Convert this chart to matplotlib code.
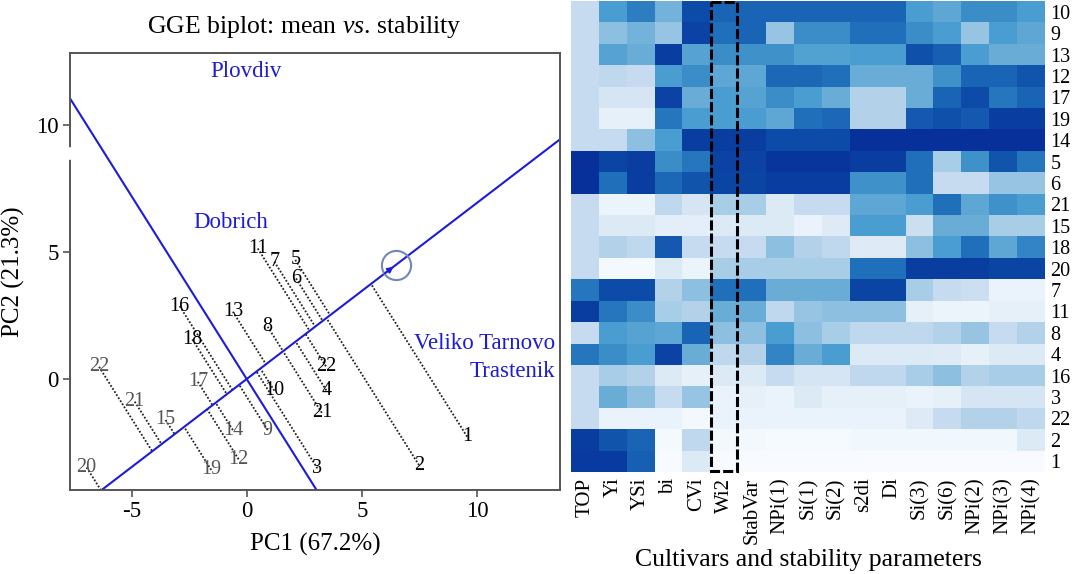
import numpy as np
import matplotlib
matplotlib.use('Agg')
import matplotlib.pyplot as plt
from matplotlib.colors import LinearSegmentedColormap
from matplotlib.patches import Rectangle

# ---------------- GGE biplot data ----------------
geno_labels = ['11', '7', '5', '6', '16', '13', '8', '18', '22', '17', '10', '21',
               '15', '14', '9', '12', '19', '20', '22', '4', '21', '3', '2', '1']
pc1 = [0.48, 1.20, 2.11, 2.14, -2.91, -0.60, 0.91, -2.36, -6.41, -2.12, 1.20, -4.86,
       -3.52, -0.60, 0.91, -0.35, -1.54, -6.95, 3.44, 3.46, 3.26, 3.07, 7.48, 9.57]
pc2 = [5.14, 4.62, 4.69, 3.96, 2.87, 2.65, 2.06, 1.56, 0.48, -0.11, -0.46, -0.89,
       -1.61, -2.01, -2.01, -3.16, -3.58, -3.48, 0.50, -0.45, -1.33, -3.52, -3.39, -2.27]
faded = [8, 9, 11, 12, 13, 14, 15, 16, 17]   # labels printed in grey

env_names = ['Plovdiv', 'Dobrich', 'Veliko Tarnovo', 'Trastenik']
env_x = [-0.03, -0.68, 13.39, 13.39]
env_y = [12.1, 6.15, 1.41, 0.29]
avg_env = [6.47, 4.49]   # average environment coordinate

# ---------------- heatmap data ----------------
cultivars = ['10', '9', '13', '12', '17', '19', '14', '5', '6', '21', '15',
             '18', '20', '7', '11', '8', '4', '16', '3', '22', '2', '1']
params = ['TOP', 'Yi', 'YSi', 'bi', 'CVi', 'Wi2', 'StabVar', 'NPi(1)', 'Si(1)',
          'Si(2)', 's2di', 'Di', 'Si(3)', 'Si(6)', 'NPi(2)', 'NPi(3)', 'NPi(4)']

top = [3, 3, 3, 3, 3, 3, 3, 10, 10, 3, 3, 3, 3, 7.3, 9.5, 3, 7.3, 3, 3, 3, 9.5, 9.6]
yi = [6, 4.5, 5.7, 3.2, 2.3, 1.3, 3, 9.2, 7.5, 0.8, 2, 3.6, 0.2, 9, 7.3, 6, 6.5, 4, 5.2, 1, 8.6, 9.6]
ysi = [7, 5, 5.2, 3, 2.3, 1.3, 4.5, 9.5, 9.5, 0.8, 2, 3.2, 0.2, 9, 6.5, 5.7, 6, 3.6, 4.5, 1, 8, 8.2]
bi = [5, 4.3, 9.5, 6, 9.3, 7.3, 6, 6.5, 7.8, 3.2, 1.5, 8.4, 2, 3.6, 4, 5.5, 9.3, 2, 3, 1, 0.2, 0]
cvi = [9, 9.3, 5.7, 6.5, 5.2, 6, 9.5, 7.3, 8.6, 2.3, 1.5, 3, 0.8, 4.5, 3.6, 8, 5.2, 1.3, 4.3, 0.3, 3.2, 2]
wi2 = [8, 7.5, 6.5, 5.5, 6, 6, 9.5, 9.3, 9.2, 4, 2, 3, 4, 7.5, 5.2, 4.5, 3.2, 2, 1, 1, 0.3, 0]
stabvar = [8, 8, 6.4, 5.5, 5.7, 6, 9.5, 9.3, 9.2, 4, 2, 3, 4, 7.5, 5.2, 4.5, 3.6, 2, 1.3, 1, 0.3, 0]
npi1 = [8, 4.3, 6.4, 7.8, 6.5, 5.5, 9, 9.8, 9.5, 2, 2, 4.5, 4, 5.2, 3.2, 6, 6.8, 3, 1, 1, 0.1, 0]
si1 = [8, 6.5, 5.8, 7.8, 6, 7.5, 9, 9.8, 9.5, 3, 1, 3.6, 4, 5.2, 4.3, 4.5, 5.2, 2.3, 2, 1, 0.1, 0]
si2 = [8, 6.5, 5.8, 7.5, 5.2, 7.8, 9, 9.8, 9.5, 3, 1.8, 3.2, 4, 5.2, 4.5, 4, 6, 2.3, 1.3, 1, 0.1, 0]
s2di = [8, 7.5, 6, 5.2, 3.6, 3.6, 10, 9.5, 6.4, 5.5, 6, 1.8, 7.5, 9.2, 4.5, 3.2, 2, 3.2, 1.3, 1, 0.5, 0]
di = [8, 7.5, 6, 5.2, 3.6, 3.6, 10, 9.5, 6.4, 5.5, 6, 1.8, 7.5, 9.2, 4.5, 3.2, 2, 3.2, 1.3, 1, 0.5, 0]
si3 = [6, 6.5, 8.8, 5.2, 5.2, 8.4, 10, 7.5, 7.5, 6, 2.7, 4.5, 9.5, 4, 1.3, 3.2, 2, 4, 1, 1.8, 0.5, 0]
si6 = [5.5, 6, 8.2, 6.4, 8, 8.8, 10, 4, 3, 7.5, 5.2, 6, 9.5, 3, 0.8, 3.6, 1.8, 4.5, 1.3, 3, 0.5, 0]
npi2 = [6.5, 4.3, 6, 8, 9, 8.4, 10, 6.4, 3, 5.5, 5.2, 7.5, 9.5, 2.7, 0.8, 4.3, 1.3, 3.6, 2.3, 3.6, 0.5, 0]
npi3 = [6.5, 6, 5.2, 8, 7.3, 9.5, 10, 8.6, 4.3, 6.4, 4, 5.5, 9.2, 1, 1.3, 3, 2, 4, 2.3, 3.6, 0.5, 0]
npi4 = [6, 5.5, 5.2, 8.6, 8, 9.5, 10, 7.3, 4.3, 6, 4, 6.8, 9.2, 1, 1.3, 3.6, 2, 4, 2.3, 3.2, 2, 0]

mat = np.column_stack([top, yi, ysi, bi, cvi, wi2, stabvar, npi1, si1, si2,
                       s2di, di, si3, si6, npi2, npi3, npi4])

plt.rcParams['font.family'] = 'Liberation Serif'
plt.rcParams['mathtext.fontset'] = 'custom'
plt.rcParams['mathtext.rm'] = 'Liberation Serif'
plt.rcParams['mathtext.it'] = 'Liberation Serif:italic'
plt.rcParams['axes.unicode_minus'] = False

W, H = 1077, 574
fig = plt.figure(figsize=(W / 100, H / 100), dpi=100)

# ---------------- left: biplot ----------------
ax = fig.add_axes([70 / W, 1 - 490 / H, 490 / W, 437.3 / H])
ax.set_xlim(-7.67, 13.6)
ax.set_ylim(-4.37, 12.85)
blue = '#1c1cd8'

u = np.array(avg_env) / np.linalg.norm(avg_env)
ax.axline((0, 0), (u[0], u[1]), color=blue, lw=1.5, zorder=2)
ax.axline((0, 0), (-u[1], u[0]), color=blue, lw=1.5, zorder=2)

for i, (x, y, lab) in enumerate(zip(pc1, pc2, geno_labels)):
    p = x * u[0] + y * u[1]
    ax.plot([x, p * u[0]], [y, p * u[1]], color='#222222', lw=1.3,
            ls=(0, (1.0, 1.0)), zorder=1)
    col = '#555555' if i in faded else 'black'
    ax.text(x, y, lab, ha='center', va='center', fontsize=14.5, color=col, zorder=3)

ax.plot(avg_env[0], avg_env[1], 'o', ms=21, mfc='none', mec='#7088b8', mew=1.5)
ax.annotate('', xy=avg_env, xytext=(avg_env[0] - 0.7 * u[0], avg_env[1] - 0.7 * u[1]),
            arrowprops=dict(arrowstyle='-|>', color=blue, lw=1.2, mutation_scale=9))

for name, x, y in zip(env_names, env_x, env_y):
    ha = 'right' if x > 10 else 'center'
    ax.text(x, y, name, ha=ha, va='center', fontsize=16.5, color=blue)

ax.set_xticks([-5, 0, 5, 10])
ax.set_yticks([0, 5, 10])
ax.tick_params(direction='out', length=5, width=1.2, color='#555555',
               labelsize=16.5, pad=3)
for s in ax.spines.values():
    s.set_color('#555555')
    s.set_linewidth(1.4)
# small break in the left axis line
ax.plot([-7.67, -7.67], [8.74, 9.0], color='white', lw=4, clip_on=False, zorder=5)
ax.set_xlabel('PC1 (67.2%)', fontsize=18, labelpad=8)
ax.set_ylabel('PC2 (21.3%)', fontsize=18, labelpad=8)
fig.text(304 / W, 1 - 27 / H, r'GGE biplot: mean $\mathit{vs}$. stability',
         ha='center', va='center', fontsize=18.5)

# ---------------- right: heatmap ----------------
cmap = LinearSegmentedColormap.from_list('blues_ref', [
    (0.0, '#f7fbff'), (0.1, '#eaf3fb'), (0.2, '#dceaf6'), (0.3, '#c6dbef'),
    (0.4, '#a8cde6'), (0.52, '#6aaed8'), (0.6, '#4a9dd0'), (0.75, '#2070bb'),
    (0.9, '#0d4ca8'), (1.0, '#08309a')])

hx = fig.add_axes([571 / W, 1 - 472 / H, 474 / W, 471 / H])
hx.imshow(mat, cmap=cmap, vmin=0, vmax=10, aspect='auto', interpolation='nearest')
hx.set_xticks(range(len(params)))
hx.set_xticklabels(params, rotation=90, fontsize=15)
hx.set_yticks(range(len(cultivars)))
hx.set_yticklabels(cultivars, fontsize=14.5)
hx.yaxis.tick_right()
hx.tick_params(length=0, pad=4)
for s in hx.spines.values():
    s.set_visible(False)
hx.set_xlabel('Cultivars and stability parameters', fontsize=18.5, labelpad=4)
hx.add_patch(Rectangle((4.52, -0.47), 0.93, 21.93, fill=False, ec='black',
                       lw=2.2, ls=(0, (3.3, 1.0)), clip_on=False, zorder=5))

fig.savefig('out.png', dpi=100)
